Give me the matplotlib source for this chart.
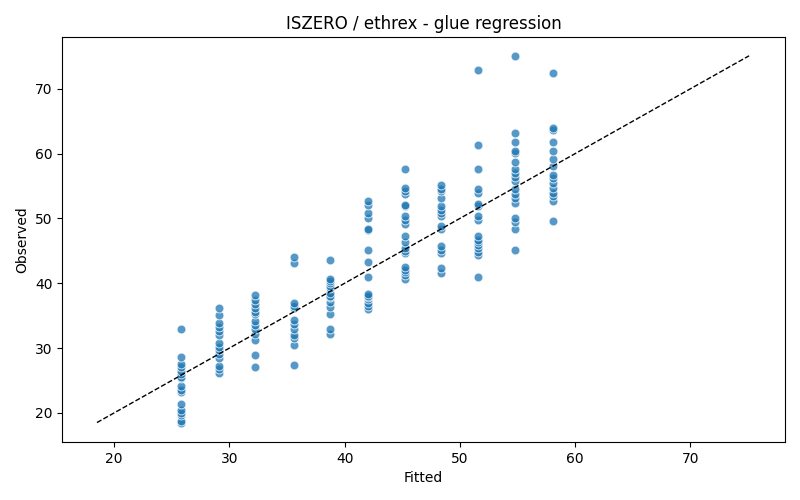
import matplotlib
matplotlib.use("Agg")
import matplotlib.pyplot as plt

# fitted levels and the observed values sitting on each of them
fitted_levels = [25.8, 29.1, 32.2, 35.6, 38.7, 42.0, 45.2, 48.4, 51.6, 54.8, 58.1]

obs_25 = [18.5, 18.7, 19.6, 20.0, 20.4, 21.3, 23.2, 23.6, 24.1, 25.3, 25.6, 26.0,
          26.5, 27.1, 27.5, 28.6, 33.0]
obs_29 = [26.2, 26.8, 27.3, 28.4, 29.1, 29.7, 30.2, 30.8, 32.0, 32.7, 33.2, 33.8,
          35.1, 36.2]
obs_32 = [27.1, 28.9, 31.3, 32.2, 32.9, 33.5, 34.1, 35.2, 35.6, 36.2, 36.8, 37.4,
          38.2]
obs_35 = [27.4, 30.5, 31.5, 32.0, 33.0, 33.7, 34.4, 36.2, 36.5, 37.0, 43.1, 44.1]
obs_38 = [32.2, 33.0, 35.2, 36.4, 37.1, 37.9, 38.0, 38.5, 39.2, 39.5, 40.0, 40.3,
          40.6, 43.6]
obs_42 = [36.0, 36.5, 37.0, 37.5, 37.8, 38.0, 38.3, 41.0, 43.3, 45.2, 48.2, 48.3,
          50.1, 50.8, 52.0, 52.7]
obs_45 = [40.7, 41.2, 41.7, 42.0, 42.5, 44.6, 45.0, 45.5, 46.3, 47.3, 49.2, 49.8,
          50.3, 51.9, 52.0, 53.8, 54.3, 54.7, 57.6]
obs_48 = [41.6, 42.3, 44.7, 45.2, 45.8, 48.4, 48.8, 50.3, 50.9, 51.3, 51.9, 53.1,
          54.2, 54.6, 55.1]
obs_51 = [41.0, 44.3, 44.8, 45.5, 45.9, 46.3, 46.7, 47.3, 49.7, 50.4, 51.9, 52.3,
          54.0, 54.6, 57.6, 61.3, 72.9]
obs_54 = [45.1, 48.4, 49.4, 50.0, 52.4, 53.1, 53.8, 54.5, 55.8, 56.4, 57.0, 57.6,
          58.7, 60.1, 60.4, 61.8, 63.2, 75.1]
obs_58 = [49.6, 52.7, 53.4, 54.0, 54.7, 55.4, 56.3, 56.7, 58.1, 59.2, 60.4, 61.8,
          63.6, 64.0, 72.4]

observed = [obs_25, obs_29, obs_32, obs_35, obs_38, obs_42, obs_45, obs_48,
            obs_51, obs_54, obs_58]

xs = []
ys = []
for f, obs in zip(fitted_levels, observed):
    xs += [f] * len(obs)
    ys += obs

fig, ax = plt.subplots(figsize=(8, 5), dpi=100)
ax.scatter(xs, ys, s=40, color="#1f77b4", alpha=0.75, edgecolors="white", linewidths=0.7)

lo = min(min(xs), min(ys))
hi = max(max(xs), max(ys))
ax.plot([lo, hi], [lo, hi], "k--", lw=1)

ax.set_xlim(15.5, 78.2)
ax.set_ylim(15.5, 78.0)
ax.set_xlabel("Fitted")
ax.set_ylabel("Observed")
ax.set_title("ISZERO / ethrex - glue regression")

fig.subplots_adjust(left=0.078, right=0.981, top=0.926, bottom=0.116)
fig.savefig("out.png")
